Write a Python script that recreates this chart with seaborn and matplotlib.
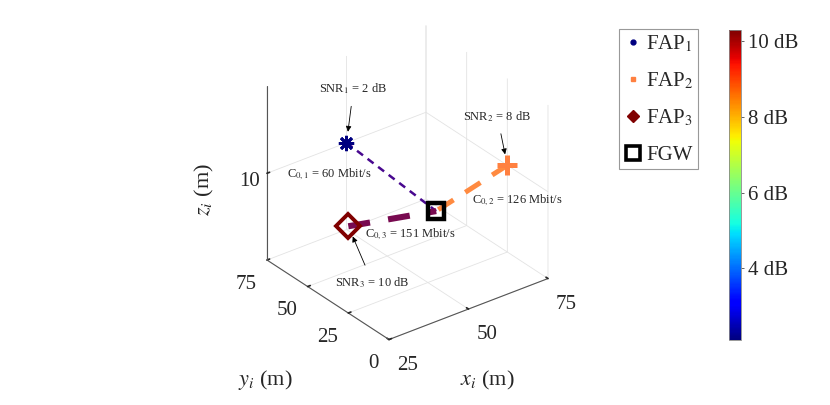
import numpy as np
import matplotlib
matplotlib.use('Agg')
import matplotlib.pyplot as plt
import seaborn as sns
from matplotlib.lines import Line2D
from mpl_toolkits.mplot3d import proj3d

sns.set_theme(style='white')
plt.rcParams['font.family'] = ['Liberation Serif', 'DejaVu Serif']
plt.rcParams['mathtext.fontset'] = 'stix'

# node positions (m)
fap_names = ['FAP$_1$', 'FAP$_2$', 'FAP$_3$']
fap_x = [50, 75, 25]
fap_y = [75, 25, 25]
fap_z = [10, 10, 10]
snr_db = [2, 8, 10]
rate_mbit = [60, 126, 151]
gw_x, gw_y, gw_z = 47, 14, 10

x_ticks = [25, 50, 75]
y_ticks = [0, 25, 50, 75]
z_ticks = [10]
cbar_ticks = [4, 6, 8, 10]

# colours following the jet map of the SNR
marker_cols = sns.color_palette(['#000080', '#ff8040', '#800000'])
line_cols = ['#48088f', '#ff8a40', '#780a50']
line_w = [1.8, 3.6, 4.4]
dashes = [(3.0, 2.3), (3.6, 2.8), (3.6, 3.0)]

fig = plt.figure(figsize=(8.3, 4.05), dpi=100)
ax = fig.add_axes([0.1841, 0.0153, 0.6, 1.04], projection='3d')
ax.set_proj_type('ortho')
ax.view_init(elev=30, azim=-127.5)
ax.set_box_aspect((1, 1, 1), zoom=0.8)
ax.set_xlim(25, 75)
ax.set_ylim(0, 75)
ax.set_zlim(0, 20)
ax.set_xticks(x_ticks)
ax.set_yticks(y_ticks)
ax.set_zticks(z_ticks)
ax.tick_params(labelsize=15, pad=2)
for lab in ax.get_xticklabels():
    lab.set_ha('left')
for lab in ax.get_yticklabels():
    lab.set_ha('right')

for axis in (ax.xaxis, ax.yaxis, ax.zaxis):
    axis.set_pane_color((1, 1, 1, 0))
    axis._axinfo['grid'].update(color='#e3e3e3', linewidth=0.6)
    axis.line.set_color('#555555')
    axis.line.set_linewidth(0.8)
    axis._axinfo['tick'].update(inward_factor=0.0, outward_factor=0.2)

# links FAP -> FGW
for i in range(3):
    ax.plot([fap_x[i], gw_x], [fap_y[i], gw_y], [fap_z[i], gw_z],
            color=line_cols[i], lw=line_w[i], dashes=dashes[i], zorder=2)

ax.plot([fap_x[0]], [fap_y[0]], [fap_z[0]], marker=(8, 2, 0), ms=11, mew=2.0,
        color=marker_cols[0], ls='none')
ax.plot([fap_x[1]], [fap_y[1]], [fap_z[1]], marker='+', ms=14, mew=3.6,
        color=marker_cols[1], ls='none')
ax.plot([fap_x[2]], [fap_y[2]], [fap_z[2]], marker='D', ms=12, mew=2.8,
        mfc='none', mec=marker_cols[2], ls='none')
ax.plot([gw_x], [gw_y], [gw_z], marker='s', ms=12, mew=3.2, mfc='none',
        mec='black', ls='none')

fig.canvas.draw()
proj = ax.get_proj()

def to2d(x, y, z):
    px, py, _ = proj3d.proj_transform(x, y, z, proj)
    return px, py

snr_offsets = [(7, 54), (-10, 49), (24, -56)]
for i in range(3):
    p = to2d(fap_x[i], fap_y[i], fap_z[i])
    ax.annotate('SNR$_{%d}$ = %d dB' % (i + 1, snr_db[i]), xy=p, xycoords='data',
                xytext=snr_offsets[i], textcoords='offset pixels', fontsize=9,
                ha='center', va='center',
                arrowprops=dict(arrowstyle='-|>', color='black', lw=0.6,
                                mutation_scale=8, shrinkA=5, shrinkB=8))

rate_offsets = [(-104, 3), (0, -12), (-27, -15)]
mids = [to2d((fap_x[i] + gw_x) / 2, (fap_y[i] + gw_y) / 2, (fap_z[i] + gw_z) / 2)
        for i in range(3)]
for i in range(3):
    ax.annotate('C$_{0,%d}$ = %d Mbit/s' % (i + 1, rate_mbit[i]), xy=mids[i],
                xycoords='data', xytext=rate_offsets[i], textcoords='offset pixels',
                fontsize=9, ha='left', va='center')

fig.text(204 / 830, 1 - 190 / 405, '$z_i$ (m)', rotation=90, fontsize=16,
         ha='center', va='center')
fig.text(265 / 830, 1 - 380 / 405, '$y_i$ (m)', fontsize=16, ha='center', va='center')
fig.text(487 / 830, 1 - 380 / 405, '$x_i$ (m)', fontsize=16, ha='center', va='center')

handles = [
    Line2D([], [], ls='none', marker='o', ms=3.5, color=marker_cols[0]),
    Line2D([], [], ls='none', marker='s', ms=3.5, color=marker_cols[1]),
    Line2D([], [], ls='none', marker='D', ms=6, color=marker_cols[2]),
    Line2D([], [], ls='none', marker='s', ms=10, mfc='none', mec='black', mew=2.6),
]
leg = fig.legend(handles, fap_names + ['FGW'], loc='upper left',
                 bbox_to_anchor=(619 / 830, 1 - 29 / 405), fontsize=15,
                 fancybox=False, framealpha=1, edgecolor='#999999',
                 handlelength=0.9, handletextpad=0.2, labelspacing=0.8,
                 borderpad=0.2, borderaxespad=0)
leg.get_frame().set_linewidth(0.8)

cax = fig.add_axes([729 / 830, 1 - 340 / 405, 12 / 830, 310 / 405])
norm = matplotlib.colors.Normalize(vmin=2.1, vmax=10.3)
cb = fig.colorbar(matplotlib.cm.ScalarMappable(norm=norm, cmap='jet'), cax=cax)
cb.set_ticks(cbar_ticks)
cb.set_ticklabels(['%d dB' % t for t in cbar_ticks])
cb.ax.tick_params(labelsize=15, length=2, width=0.5, pad=3)
cb.outline.set_edgecolor('#888888')
cb.outline.set_linewidth(0.6)

fig.savefig('out.png', dpi=100)
